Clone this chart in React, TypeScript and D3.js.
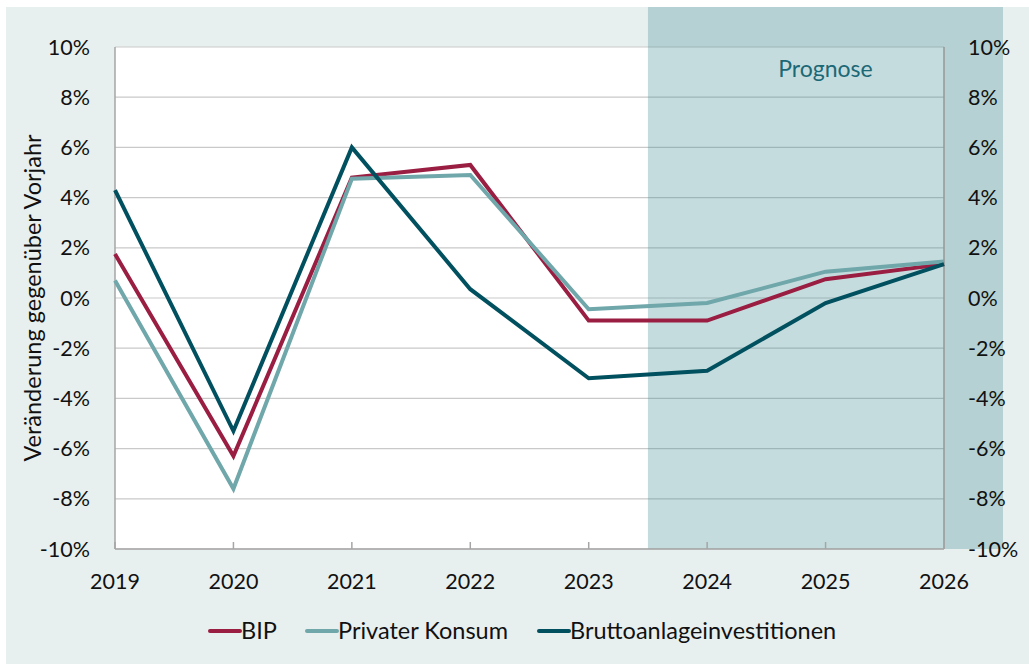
import React, { useEffect, useRef } from 'react'
import * as d3 from 'd3'

const years = ['2019', '2020', '2021', '2022', '2023', '2024', '2025', '2026']
const bip = [1.75, -6.3, 4.8, 5.3, -0.9, -0.9, 0.75, 1.35]
const konsum = [0.7, -7.6, 4.75, 4.9, -0.45, -0.2, 1.05, 1.45]
const brutto = [4.3, -5.3, 6.0, 0.35, -3.2, -2.9, -0.2, 1.35]
const yTicks = [-10, -8, -6, -4, -2, 0, 2, 4, 6, 8, 10]

const series = [
  { name: 'BIP', values: bip, color: '#9a1d42' },
  { name: 'Privater Konsum', values: konsum, color: '#6fa7aa' },
  { name: 'Bruttoanlageinvestitionen', values: brutto, color: '#00505f' },
]

function App() {
  const svgRef = useRef<SVGSVGElement>(null)
  const W = 1029
  const H = 664
  const margin = { top: 47, right: 85, bottom: 115, left: 115 }

  useEffect(() => {
    const svg = d3.select(svgRef.current)
    svg.selectAll('*').remove()
    const font = 'Lato, "Open Sans", sans-serif'

    const x = d3.scalePoint().domain(years).range([margin.left, W - margin.right])
    const y = d3.scaleLinear().domain([-10, 10]).range([H - margin.bottom, margin.top])

    // outer background
    svg.append('rect').attr('x', 6).attr('y', 7).attr('width', W - 6).attr('height', H - 7).attr('fill', '#e8f0ef')
    // plot area
    svg.append('rect')
      .attr('x', margin.left).attr('y', margin.top)
      .attr('width', W - margin.left - margin.right).attr('height', H - margin.top - margin.bottom)
      .attr('fill', '#ffffff')

    // grid
    svg.append('g').selectAll('line').data(yTicks).join('line')
      .attr('x1', margin.left).attr('x2', W - margin.right)
      .attr('y1', d => y(d)).attr('y2', d => y(d))
      .attr('stroke', '#c9c9c9').attr('stroke-width', 1.2)

    // forecast shading
    const x0 = (x('2023')! + x('2024')!) / 2
    svg.append('rect')
      .attr('x', x0).attr('y', 7)
      .attr('width', 1003 - x0).attr('height', y(-10) - 7)
      .attr('fill', '#3f8a93').attr('fill-opacity', 0.3)
    svg.append('text')
      .attr('x', (x0 + 1003) / 2).attr('y', 77)
      .attr('text-anchor', 'middle')
      .attr('font-family', font).attr('font-size', 23)
      .attr('fill', '#1b6876').text('Prognose')

    // axes lines
    svg.append('line').attr('x1', margin.left).attr('x2', margin.left)
      .attr('y1', margin.top).attr('y2', y(-10)).attr('stroke', '#a6a6a6').attr('stroke-width', 1.5)
    svg.append('line').attr('x1', W - margin.right).attr('x2', W - margin.right)
      .attr('y1', margin.top).attr('y2', y(-10)).attr('stroke', '#969696').attr('stroke-width', 1.5)
    svg.append('line').attr('x1', margin.left).attr('x2', W - margin.right)
      .attr('y1', y(-10)).attr('y2', y(-10)).attr('stroke', '#a6a6a6').attr('stroke-width', 1.5)
    svg.append('g').selectAll('line').data(years).join('line')
      .attr('x1', d => x(d)!).attr('x2', d => x(d)!)
      .attr('y1', y(-10) - 7).attr('y2', y(-10))
      .attr('stroke', '#a6a6a6').attr('stroke-width', 1.5)

    // y tick labels
    const fmt = (d: number) => `${d}%`
    svg.append('g').selectAll('text').data(yTicks).join('text')
      .attr('x', 90).attr('y', d => y(d)).attr('dy', '0.35em')
      .attr('text-anchor', 'end').attr('font-family', font).attr('font-size', 21.5).attr('fill', '#111')
      .text(fmt)
    svg.append('g').selectAll('text').data(yTicks).join('text')
      .attr('x', 968).attr('y', d => y(d)).attr('dy', '0.35em')
      .attr('text-anchor', 'start').attr('font-family', font).attr('font-size', 21.5).attr('fill', '#111')
      .text(fmt)

    // x tick labels
    svg.append('g').selectAll('text').data(years).join('text')
      .attr('x', d => x(d)!).attr('y', y(-10) + 40)
      .attr('text-anchor', 'middle').attr('font-family', font).attr('font-size', 21.5).attr('fill', '#111')
      .text(d => d)

    // y axis title
    svg.append('text')
      .attr('transform', `translate(41,${y(0)}) rotate(-90)`)
      .attr('text-anchor', 'middle').attr('font-family', font).attr('font-size', 23.5).attr('fill', '#111')
      .text('Veränderung gegenüber Vorjahr')

    // lines
    const line = d3.line<number>().x((d, i) => x(years[i])!).y(d => y(d))
    series.forEach(s => {
      svg.append('path').datum(s.values)
        .attr('fill', 'none').attr('stroke', s.color).attr('stroke-width', 4)
        .attr('stroke-linejoin', 'miter').attr('d', line)
    })

    // legend
    const legendX = [210, 307, 539]
    const lg = svg.append('g')
    series.forEach((s, i) => {
      lg.append('line')
        .attr('x1', legendX[i]).attr('x2', legendX[i] + 30)
        .attr('y1', 631).attr('y2', 631)
        .attr('stroke', s.color).attr('stroke-width', 4).attr('stroke-linecap', 'round')
      lg.append('text')
        .attr('x', legendX[i] + 31).attr('y', 631).attr('dy', '0.35em')
        .attr('font-family', font).attr('font-size', 23.5).attr('fill', '#111')
        .text(s.name)
    })
  }, [])

  return (
    <svg ref={svgRef} width={W} height={H} style={{ position: 'absolute', left: 0, top: 0 }}></svg>
  )
}
export default App
